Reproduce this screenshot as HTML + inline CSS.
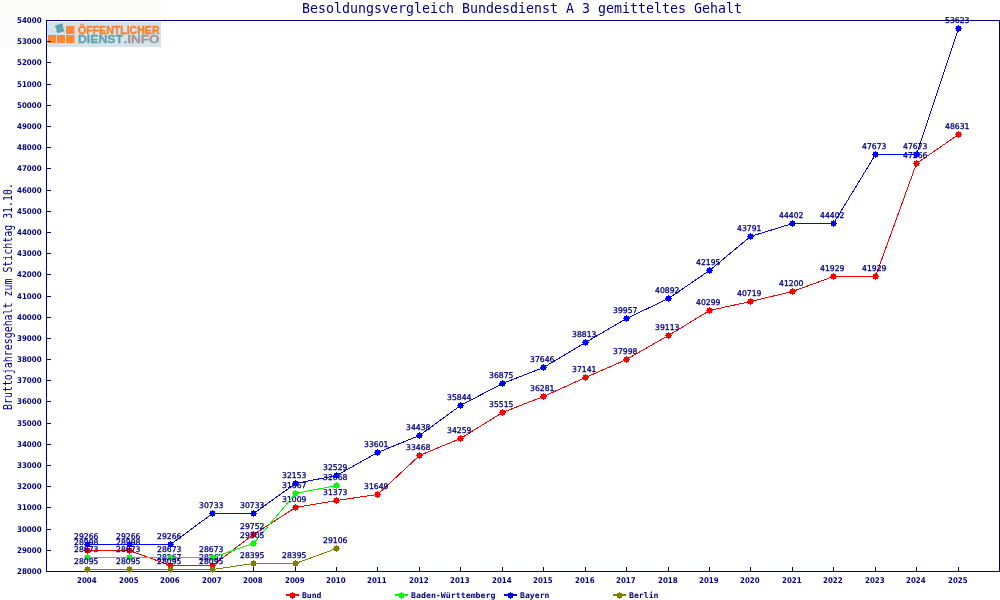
<!DOCTYPE html><html lang="de"><head><meta charset="utf-8"><title>Besoldungsvergleich Bundesdienst A 3</title>
<style>html,body{margin:0;padding:0;background:#fff;overflow:hidden}svg{display:block}text{font-family:"DejaVu Sans Mono","Liberation Mono",monospace;fill:#000080}.v{font-family:"DejaVu Sans","Liberation Sans",sans-serif;font-size:7.9px;stroke:#000080;stroke-width:.3px}.b{font-family:"DejaVu Sans","Liberation Sans",sans-serif;font-size:7.9px;font-weight:bold}.t{font-size:13.6px}.yt{font-size:11.6px}.lg{font-size:7.9px;font-weight:bold}.lo{font-family:"Liberation Sans","DejaVu Sans",sans-serif;font-weight:bold;font-size:10.5px;stroke-width:.3px}</style></head><body>
<svg width="1000" height="600" viewBox="0 0 1000 600">
<rect width="1000" height="600" fill="#ffffff"/>
<rect x="0" y="0" width="161" height="47" fill="#fcfdfb"/>
<g id="logo">
<rect x="47" y="22" width="114" height="25" fill="#d6e3ea"/>
<g fill="#ff8833"><rect x="48" y="35" width="8" height="8"/><rect x="57" y="35" width="8" height="8"/><rect x="66" y="35" width="8.5" height="8"/><rect x="66" y="26" width="8.5" height="8"/></g>
<path fill="#5fa5ae" d="M55.2 25.4L58 24.6 60 23.9 62.6 23.5 63 26 63.3 28.5 64.4 30.3 63.8 31.6 61 32 59.5 32.9 57 32.6 56.3 31 56.5 29 55.4 27.5z"/>
<text class="lo" x="78" y="34.2" textLength="81.5" lengthAdjust="spacingAndGlyphs" style="fill:#ff7d26;stroke:#ff7d26">ÖFFENTLICHER</text>
<text class="lo" x="78" y="42.5" textLength="45" lengthAdjust="spacingAndGlyphs" style="fill:#5fa5ae;stroke:#5fa5ae">DIENST</text>
<text class="lo" x="123.6" y="42.5" textLength="35.8" lengthAdjust="spacingAndGlyphs" style="fill:#9a9a9a;stroke:#9a9a9a">.INFO</text>
</g>
<text class="t" x="302" y="13.4" textLength="440" lengthAdjust="spacingAndGlyphs">Besoldungsvergleich Bundesdienst A 3 gemitteltes Gehalt</text>
<text class="yt" transform="translate(12,410) rotate(-90)" textLength="227" lengthAdjust="spacingAndGlyphs">Bruttojahresgehalt zum Stichtag 31.10.</text>
<g fill="#000080">
<rect x="46" y="20" width="954" height="1"/><rect x="46" y="571" width="954" height="1"/><rect x="46" y="20" width="1" height="552"/><rect x="999" y="20" width="1" height="552"/>
<rect x="47" y="571" width="4" height="1"/>
<rect x="47" y="550" width="4" height="1"/>
<rect x="47" y="529" width="4" height="1"/>
<rect x="47" y="507" width="4" height="1"/>
<rect x="47" y="486" width="4" height="1"/>
<rect x="47" y="465" width="4" height="1"/>
<rect x="47" y="444" width="4" height="1"/>
<rect x="47" y="423" width="4" height="1"/>
<rect x="47" y="401" width="4" height="1"/>
<rect x="47" y="380" width="4" height="1"/>
<rect x="47" y="359" width="4" height="1"/>
<rect x="47" y="338" width="4" height="1"/>
<rect x="47" y="317" width="4" height="1"/>
<rect x="47" y="296" width="4" height="1"/>
<rect x="47" y="274" width="4" height="1"/>
<rect x="47" y="253" width="4" height="1"/>
<rect x="47" y="232" width="4" height="1"/>
<rect x="47" y="211" width="4" height="1"/>
<rect x="47" y="190" width="4" height="1"/>
<rect x="47" y="168" width="4" height="1"/>
<rect x="47" y="147" width="4" height="1"/>
<rect x="47" y="126" width="4" height="1"/>
<rect x="47" y="105" width="4" height="1"/>
<rect x="47" y="84" width="4" height="1"/>
<rect x="47" y="62" width="4" height="1"/>
<rect x="47" y="41" width="4" height="1"/>
<rect x="47" y="20" width="4" height="1"/>
<rect x="87" y="567" width="1" height="4"/>
<rect x="129" y="567" width="1" height="4"/>
<rect x="170" y="567" width="1" height="4"/>
<rect x="212" y="567" width="1" height="4"/>
<rect x="253" y="567" width="1" height="4"/>
<rect x="295" y="567" width="1" height="4"/>
<rect x="336" y="567" width="1" height="4"/>
<rect x="377" y="567" width="1" height="4"/>
<rect x="419" y="567" width="1" height="4"/>
<rect x="460" y="567" width="1" height="4"/>
<rect x="502" y="567" width="1" height="4"/>
<rect x="543" y="567" width="1" height="4"/>
<rect x="585" y="567" width="1" height="4"/>
<rect x="626" y="567" width="1" height="4"/>
<rect x="668" y="567" width="1" height="4"/>
<rect x="709" y="567" width="1" height="4"/>
<rect x="750" y="567" width="1" height="4"/>
<rect x="792" y="567" width="1" height="4"/>
<rect x="833" y="567" width="1" height="4"/>
<rect x="875" y="567" width="1" height="4"/>
<rect x="916" y="567" width="1" height="4"/>
<rect x="958" y="567" width="1" height="4"/>
</g>
<polyline points="87.5,550.5 129.5,550.5 170.5,565.5 212.5,565.5 253.5,534.5 295.5,507.5 336.5,500.5 377.5,494.5 419.5,455.5 460.5,438.5 502.5,412.5 543.5,396.5 585.5,377.5 626.5,359.5 668.5,335.5 709.5,310.5 750.5,301.5 792.5,291.5 833.5,276.5 875.5,276.5 916.5,163.5 958.5,134.5" fill="none" stroke="#ff0000" stroke-width="1" shape-rendering="crispEdges"/>
<path fill="#ff0000" d="M85 548h5v5h-5zM84 550h7v1h-7zM87 547h1v7h-1z"/>
<path fill="#ff0000" d="M127 548h5v5h-5zM126 550h7v1h-7zM129 547h1v7h-1z"/>
<path fill="#ff0000" d="M168 563h5v5h-5zM167 565h7v1h-7zM170 562h1v7h-1z"/>
<path fill="#ff0000" d="M210 563h5v5h-5zM209 565h7v1h-7zM212 562h1v7h-1z"/>
<path fill="#ff0000" d="M251 532h5v5h-5zM250 534h7v1h-7zM253 531h1v7h-1z"/>
<path fill="#ff0000" d="M293 505h5v5h-5zM292 507h7v1h-7zM295 504h1v7h-1z"/>
<path fill="#ff0000" d="M334 498h5v5h-5zM333 500h7v1h-7zM336 497h1v7h-1z"/>
<path fill="#ff0000" d="M375 492h5v5h-5zM374 494h7v1h-7zM377 491h1v7h-1z"/>
<path fill="#ff0000" d="M417 453h5v5h-5zM416 455h7v1h-7zM419 452h1v7h-1z"/>
<path fill="#ff0000" d="M458 436h5v5h-5zM457 438h7v1h-7zM460 435h1v7h-1z"/>
<path fill="#ff0000" d="M500 410h5v5h-5zM499 412h7v1h-7zM502 409h1v7h-1z"/>
<path fill="#ff0000" d="M541 394h5v5h-5zM540 396h7v1h-7zM543 393h1v7h-1z"/>
<path fill="#ff0000" d="M583 375h5v5h-5zM582 377h7v1h-7zM585 374h1v7h-1z"/>
<path fill="#ff0000" d="M624 357h5v5h-5zM623 359h7v1h-7zM626 356h1v7h-1z"/>
<path fill="#ff0000" d="M666 333h5v5h-5zM665 335h7v1h-7zM668 332h1v7h-1z"/>
<path fill="#ff0000" d="M707 308h5v5h-5zM706 310h7v1h-7zM709 307h1v7h-1z"/>
<path fill="#ff0000" d="M748 299h5v5h-5zM747 301h7v1h-7zM750 298h1v7h-1z"/>
<path fill="#ff0000" d="M790 289h5v5h-5zM789 291h7v1h-7zM792 288h1v7h-1z"/>
<path fill="#ff0000" d="M831 274h5v5h-5zM830 276h7v1h-7zM833 273h1v7h-1z"/>
<path fill="#ff0000" d="M873 274h5v5h-5zM872 276h7v1h-7zM875 273h1v7h-1z"/>
<path fill="#ff0000" d="M914 161h5v5h-5zM913 163h7v1h-7zM916 160h1v7h-1z"/>
<path fill="#ff0000" d="M956 132h5v5h-5zM955 134h7v1h-7zM958 131h1v7h-1z"/>
<text class="v" x="74" y="545" textLength="24.4" lengthAdjust="spacingAndGlyphs">28998</text>
<text class="v" x="116" y="545" textLength="24.4" lengthAdjust="spacingAndGlyphs">28998</text>
<text class="v" x="157" y="560" textLength="24.4" lengthAdjust="spacingAndGlyphs">28267</text>
<text class="v" x="199" y="560" textLength="24.4" lengthAdjust="spacingAndGlyphs">28267</text>
<text class="v" x="240" y="529" textLength="24.4" lengthAdjust="spacingAndGlyphs">29752</text>
<text class="v" x="282" y="502" textLength="24.4" lengthAdjust="spacingAndGlyphs">31009</text>
<text class="v" x="323" y="495" textLength="24.4" lengthAdjust="spacingAndGlyphs">31373</text>
<text class="v" x="364" y="489" textLength="24.4" lengthAdjust="spacingAndGlyphs">31649</text>
<text class="v" x="406" y="450" textLength="24.4" lengthAdjust="spacingAndGlyphs">33468</text>
<text class="v" x="447" y="433" textLength="24.4" lengthAdjust="spacingAndGlyphs">34259</text>
<text class="v" x="489" y="407" textLength="24.4" lengthAdjust="spacingAndGlyphs">35515</text>
<text class="v" x="530" y="391" textLength="24.4" lengthAdjust="spacingAndGlyphs">36281</text>
<text class="v" x="572" y="372" textLength="24.4" lengthAdjust="spacingAndGlyphs">37141</text>
<text class="v" x="613" y="354" textLength="24.4" lengthAdjust="spacingAndGlyphs">37998</text>
<text class="v" x="655" y="330" textLength="24.4" lengthAdjust="spacingAndGlyphs">39113</text>
<text class="v" x="696" y="305" textLength="24.4" lengthAdjust="spacingAndGlyphs">40299</text>
<text class="v" x="737" y="296" textLength="24.4" lengthAdjust="spacingAndGlyphs">40719</text>
<text class="v" x="779" y="286" textLength="24.4" lengthAdjust="spacingAndGlyphs">41200</text>
<text class="v" x="820" y="271" textLength="24.4" lengthAdjust="spacingAndGlyphs">41929</text>
<text class="v" x="862" y="271" textLength="24.4" lengthAdjust="spacingAndGlyphs">41929</text>
<text class="v" x="903" y="158" textLength="24.4" lengthAdjust="spacingAndGlyphs">47266</text>
<text class="v" x="945" y="129" textLength="24.4" lengthAdjust="spacingAndGlyphs">48631</text>
<polyline points="87.5,557.5 129.5,557.5 170.5,557.5 212.5,557.5 253.5,543.5 295.5,493.5 336.5,485.5" fill="none" stroke="#00ff00" stroke-width="1" shape-rendering="crispEdges"/>
<path fill="#00ff00" d="M85 555h5v5h-5zM84 557h7v1h-7zM87 554h1v7h-1z"/>
<path fill="#00ff00" d="M127 555h5v5h-5zM126 557h7v1h-7zM129 554h1v7h-1z"/>
<path fill="#00ff00" d="M168 555h5v5h-5zM167 557h7v1h-7zM170 554h1v7h-1z"/>
<path fill="#00ff00" d="M210 555h5v5h-5zM209 557h7v1h-7zM212 554h1v7h-1z"/>
<path fill="#00ff00" d="M251 541h5v5h-5zM250 543h7v1h-7zM253 540h1v7h-1z"/>
<path fill="#00ff00" d="M293 491h5v5h-5zM292 493h7v1h-7zM295 490h1v7h-1z"/>
<path fill="#00ff00" d="M334 483h5v5h-5zM333 485h7v1h-7zM336 482h1v7h-1z"/>
<text class="v" x="74" y="552" textLength="24.4" lengthAdjust="spacingAndGlyphs">28673</text>
<text class="v" x="116" y="552" textLength="24.4" lengthAdjust="spacingAndGlyphs">28673</text>
<text class="v" x="157" y="552" textLength="24.4" lengthAdjust="spacingAndGlyphs">28673</text>
<text class="v" x="199" y="552" textLength="24.4" lengthAdjust="spacingAndGlyphs">28673</text>
<text class="v" x="240" y="538" textLength="24.4" lengthAdjust="spacingAndGlyphs">29305</text>
<text class="v" x="282" y="488" textLength="24.4" lengthAdjust="spacingAndGlyphs">31667</text>
<text class="v" x="323" y="480" textLength="24.4" lengthAdjust="spacingAndGlyphs">32068</text>
<polyline points="87.5,544.5 129.5,544.5 170.5,544.5 212.5,513.5 253.5,513.5 295.5,483.5 336.5,475.5 377.5,452.5 419.5,435.5 460.5,405.5 502.5,383.5 543.5,367.5 585.5,342.5 626.5,318.5 668.5,298.5 709.5,270.5 750.5,236.5 792.5,223.5 833.5,223.5 875.5,154.5 916.5,154.5 958.5,28.5" fill="none" stroke="#0000ff" stroke-width="1" shape-rendering="crispEdges"/>
<path fill="#0000ff" d="M85 542h5v5h-5zM84 544h7v1h-7zM87 541h1v7h-1z"/>
<path fill="#0000ff" d="M127 542h5v5h-5zM126 544h7v1h-7zM129 541h1v7h-1z"/>
<path fill="#0000ff" d="M168 542h5v5h-5zM167 544h7v1h-7zM170 541h1v7h-1z"/>
<path fill="#0000ff" d="M210 511h5v5h-5zM209 513h7v1h-7zM212 510h1v7h-1z"/>
<path fill="#0000ff" d="M251 511h5v5h-5zM250 513h7v1h-7zM253 510h1v7h-1z"/>
<path fill="#0000ff" d="M293 481h5v5h-5zM292 483h7v1h-7zM295 480h1v7h-1z"/>
<path fill="#0000ff" d="M334 473h5v5h-5zM333 475h7v1h-7zM336 472h1v7h-1z"/>
<path fill="#0000ff" d="M375 450h5v5h-5zM374 452h7v1h-7zM377 449h1v7h-1z"/>
<path fill="#0000ff" d="M417 433h5v5h-5zM416 435h7v1h-7zM419 432h1v7h-1z"/>
<path fill="#0000ff" d="M458 403h5v5h-5zM457 405h7v1h-7zM460 402h1v7h-1z"/>
<path fill="#0000ff" d="M500 381h5v5h-5zM499 383h7v1h-7zM502 380h1v7h-1z"/>
<path fill="#0000ff" d="M541 365h5v5h-5zM540 367h7v1h-7zM543 364h1v7h-1z"/>
<path fill="#0000ff" d="M583 340h5v5h-5zM582 342h7v1h-7zM585 339h1v7h-1z"/>
<path fill="#0000ff" d="M624 316h5v5h-5zM623 318h7v1h-7zM626 315h1v7h-1z"/>
<path fill="#0000ff" d="M666 296h5v5h-5zM665 298h7v1h-7zM668 295h1v7h-1z"/>
<path fill="#0000ff" d="M707 268h5v5h-5zM706 270h7v1h-7zM709 267h1v7h-1z"/>
<path fill="#0000ff" d="M748 234h5v5h-5zM747 236h7v1h-7zM750 233h1v7h-1z"/>
<path fill="#0000ff" d="M790 221h5v5h-5zM789 223h7v1h-7zM792 220h1v7h-1z"/>
<path fill="#0000ff" d="M831 221h5v5h-5zM830 223h7v1h-7zM833 220h1v7h-1z"/>
<path fill="#0000ff" d="M873 152h5v5h-5zM872 154h7v1h-7zM875 151h1v7h-1z"/>
<path fill="#0000ff" d="M914 152h5v5h-5zM913 154h7v1h-7zM916 151h1v7h-1z"/>
<path fill="#0000ff" d="M956 26h5v5h-5zM955 28h7v1h-7zM958 25h1v7h-1z"/>
<text class="v" x="74" y="539" textLength="24.4" lengthAdjust="spacingAndGlyphs">29266</text>
<text class="v" x="116" y="539" textLength="24.4" lengthAdjust="spacingAndGlyphs">29266</text>
<text class="v" x="157" y="539" textLength="24.4" lengthAdjust="spacingAndGlyphs">29266</text>
<text class="v" x="199" y="508" textLength="24.4" lengthAdjust="spacingAndGlyphs">30733</text>
<text class="v" x="240" y="508" textLength="24.4" lengthAdjust="spacingAndGlyphs">30733</text>
<text class="v" x="282" y="478" textLength="24.4" lengthAdjust="spacingAndGlyphs">32153</text>
<text class="v" x="323" y="470" textLength="24.4" lengthAdjust="spacingAndGlyphs">32529</text>
<text class="v" x="364" y="447" textLength="24.4" lengthAdjust="spacingAndGlyphs">33601</text>
<text class="v" x="406" y="430" textLength="24.4" lengthAdjust="spacingAndGlyphs">34438</text>
<text class="v" x="447" y="400" textLength="24.4" lengthAdjust="spacingAndGlyphs">35844</text>
<text class="v" x="489" y="378" textLength="24.4" lengthAdjust="spacingAndGlyphs">36875</text>
<text class="v" x="530" y="362" textLength="24.4" lengthAdjust="spacingAndGlyphs">37646</text>
<text class="v" x="572" y="337" textLength="24.4" lengthAdjust="spacingAndGlyphs">38813</text>
<text class="v" x="613" y="313" textLength="24.4" lengthAdjust="spacingAndGlyphs">39957</text>
<text class="v" x="655" y="293" textLength="24.4" lengthAdjust="spacingAndGlyphs">40892</text>
<text class="v" x="696" y="265" textLength="24.4" lengthAdjust="spacingAndGlyphs">42195</text>
<text class="v" x="737" y="231" textLength="24.4" lengthAdjust="spacingAndGlyphs">43791</text>
<text class="v" x="779" y="218" textLength="24.4" lengthAdjust="spacingAndGlyphs">44402</text>
<text class="v" x="820" y="218" textLength="24.4" lengthAdjust="spacingAndGlyphs">44402</text>
<text class="v" x="862" y="149" textLength="24.4" lengthAdjust="spacingAndGlyphs">47673</text>
<text class="v" x="903" y="149" textLength="24.4" lengthAdjust="spacingAndGlyphs">47673</text>
<text class="v" x="945" y="23" textLength="24.4" lengthAdjust="spacingAndGlyphs">53623</text>
<polyline points="87.5,569.5 129.5,569.5 170.5,569.5 212.5,569.5 253.5,563.5 295.5,563.5 336.5,548.5" fill="none" stroke="#808000" stroke-width="1" shape-rendering="crispEdges"/>
<path fill="#808000" d="M85 567h5v5h-5zM84 569h7v1h-7zM87 566h1v7h-1z"/>
<path fill="#808000" d="M127 567h5v5h-5zM126 569h7v1h-7zM129 566h1v7h-1z"/>
<path fill="#808000" d="M168 567h5v5h-5zM167 569h7v1h-7zM170 566h1v7h-1z"/>
<path fill="#808000" d="M210 567h5v5h-5zM209 569h7v1h-7zM212 566h1v7h-1z"/>
<path fill="#808000" d="M251 561h5v5h-5zM250 563h7v1h-7zM253 560h1v7h-1z"/>
<path fill="#808000" d="M293 561h5v5h-5zM292 563h7v1h-7zM295 560h1v7h-1z"/>
<path fill="#808000" d="M334 546h5v5h-5zM333 548h7v1h-7zM336 545h1v7h-1z"/>
<text class="v" x="74" y="564" textLength="24.4" lengthAdjust="spacingAndGlyphs">28095</text>
<text class="v" x="116" y="564" textLength="24.4" lengthAdjust="spacingAndGlyphs">28095</text>
<text class="v" x="157" y="564" textLength="24.4" lengthAdjust="spacingAndGlyphs">28095</text>
<text class="v" x="199" y="564" textLength="24.4" lengthAdjust="spacingAndGlyphs">28095</text>
<text class="v" x="240" y="558" textLength="24.4" lengthAdjust="spacingAndGlyphs">28395</text>
<text class="v" x="282" y="558" textLength="24.4" lengthAdjust="spacingAndGlyphs">28395</text>
<text class="v" x="323" y="543" textLength="24.4" lengthAdjust="spacingAndGlyphs">29106</text>
<text class="b" x="17" y="574" textLength="24.6" lengthAdjust="spacingAndGlyphs">28000</text>
<text class="b" x="17" y="553" textLength="24.6" lengthAdjust="spacingAndGlyphs">29000</text>
<text class="b" x="17" y="532" textLength="24.6" lengthAdjust="spacingAndGlyphs">30000</text>
<text class="b" x="17" y="510" textLength="24.6" lengthAdjust="spacingAndGlyphs">31000</text>
<text class="b" x="17" y="489" textLength="24.6" lengthAdjust="spacingAndGlyphs">32000</text>
<text class="b" x="17" y="468" textLength="24.6" lengthAdjust="spacingAndGlyphs">33000</text>
<text class="b" x="17" y="447" textLength="24.6" lengthAdjust="spacingAndGlyphs">34000</text>
<text class="b" x="17" y="426" textLength="24.6" lengthAdjust="spacingAndGlyphs">35000</text>
<text class="b" x="17" y="404" textLength="24.6" lengthAdjust="spacingAndGlyphs">36000</text>
<text class="b" x="17" y="383" textLength="24.6" lengthAdjust="spacingAndGlyphs">37000</text>
<text class="b" x="17" y="362" textLength="24.6" lengthAdjust="spacingAndGlyphs">38000</text>
<text class="b" x="17" y="341" textLength="24.6" lengthAdjust="spacingAndGlyphs">39000</text>
<text class="b" x="17" y="320" textLength="24.6" lengthAdjust="spacingAndGlyphs">40000</text>
<text class="b" x="17" y="299" textLength="24.6" lengthAdjust="spacingAndGlyphs">41000</text>
<text class="b" x="17" y="277" textLength="24.6" lengthAdjust="spacingAndGlyphs">42000</text>
<text class="b" x="17" y="256" textLength="24.6" lengthAdjust="spacingAndGlyphs">43000</text>
<text class="b" x="17" y="235" textLength="24.6" lengthAdjust="spacingAndGlyphs">44000</text>
<text class="b" x="17" y="214" textLength="24.6" lengthAdjust="spacingAndGlyphs">45000</text>
<text class="b" x="17" y="193" textLength="24.6" lengthAdjust="spacingAndGlyphs">46000</text>
<text class="b" x="17" y="171" textLength="24.6" lengthAdjust="spacingAndGlyphs">47000</text>
<text class="b" x="17" y="150" textLength="24.6" lengthAdjust="spacingAndGlyphs">48000</text>
<text class="b" x="17" y="129" textLength="24.6" lengthAdjust="spacingAndGlyphs">49000</text>
<text class="b" x="17" y="108" textLength="24.6" lengthAdjust="spacingAndGlyphs">50000</text>
<text class="b" x="17" y="87" textLength="24.6" lengthAdjust="spacingAndGlyphs">51000</text>
<text class="b" x="17" y="65" textLength="24.6" lengthAdjust="spacingAndGlyphs">52000</text>
<text class="b" x="17" y="44" textLength="24.6" lengthAdjust="spacingAndGlyphs">53000</text>
<text class="b" x="17" y="23" textLength="24.6" lengthAdjust="spacingAndGlyphs">54000</text>
<text class="b" x="77" y="583" textLength="19.6" lengthAdjust="spacingAndGlyphs">2004</text>
<text class="b" x="119" y="583" textLength="19.6" lengthAdjust="spacingAndGlyphs">2005</text>
<text class="b" x="160" y="583" textLength="19.6" lengthAdjust="spacingAndGlyphs">2006</text>
<text class="b" x="202" y="583" textLength="19.6" lengthAdjust="spacingAndGlyphs">2007</text>
<text class="b" x="243" y="583" textLength="19.6" lengthAdjust="spacingAndGlyphs">2008</text>
<text class="b" x="285" y="583" textLength="19.6" lengthAdjust="spacingAndGlyphs">2009</text>
<text class="b" x="326" y="583" textLength="19.6" lengthAdjust="spacingAndGlyphs">2010</text>
<text class="b" x="367" y="583" textLength="19.6" lengthAdjust="spacingAndGlyphs">2011</text>
<text class="b" x="409" y="583" textLength="19.6" lengthAdjust="spacingAndGlyphs">2012</text>
<text class="b" x="450" y="583" textLength="19.6" lengthAdjust="spacingAndGlyphs">2013</text>
<text class="b" x="492" y="583" textLength="19.6" lengthAdjust="spacingAndGlyphs">2014</text>
<text class="b" x="533" y="583" textLength="19.6" lengthAdjust="spacingAndGlyphs">2015</text>
<text class="b" x="575" y="583" textLength="19.6" lengthAdjust="spacingAndGlyphs">2016</text>
<text class="b" x="616" y="583" textLength="19.6" lengthAdjust="spacingAndGlyphs">2017</text>
<text class="b" x="658" y="583" textLength="19.6" lengthAdjust="spacingAndGlyphs">2018</text>
<text class="b" x="699" y="583" textLength="19.6" lengthAdjust="spacingAndGlyphs">2019</text>
<text class="b" x="740" y="583" textLength="19.6" lengthAdjust="spacingAndGlyphs">2020</text>
<text class="b" x="782" y="583" textLength="19.6" lengthAdjust="spacingAndGlyphs">2021</text>
<text class="b" x="823" y="583" textLength="19.6" lengthAdjust="spacingAndGlyphs">2022</text>
<text class="b" x="865" y="583" textLength="19.6" lengthAdjust="spacingAndGlyphs">2023</text>
<text class="b" x="906" y="583" textLength="19.6" lengthAdjust="spacingAndGlyphs">2024</text>
<text class="b" x="948" y="583" textLength="19.6" lengthAdjust="spacingAndGlyphs">2025</text>
<rect x="286" y="594" width="13" height="2" fill="#ff0000"/>
<path fill="#ff0000" d="M290 593h5v5h-5zM289 595h7v1h-7zM292 592h1v7h-1z"/>
<text class="lg" x="302" y="598" textLength="19.5" lengthAdjust="spacingAndGlyphs">Bund</text>
<rect x="395" y="594" width="13" height="2" fill="#00ff00"/>
<path fill="#00ff00" d="M399 593h5v5h-5zM398 595h7v1h-7zM401 592h1v7h-1z"/>
<text class="lg" x="411" y="598" textLength="84.5" lengthAdjust="spacingAndGlyphs">Baden-Württemberg</text>
<rect x="504" y="594" width="13" height="2" fill="#0000ff"/>
<path fill="#0000ff" d="M508 593h5v5h-5zM507 595h7v1h-7zM510 592h1v7h-1z"/>
<text class="lg" x="520" y="598" textLength="29.5" lengthAdjust="spacingAndGlyphs">Bayern</text>
<rect x="613" y="594" width="13" height="2" fill="#808000"/>
<path fill="#808000" d="M617 593h5v5h-5zM616 595h7v1h-7zM619 592h1v7h-1z"/>
<text class="lg" x="629" y="598" textLength="29.5" lengthAdjust="spacingAndGlyphs">Berlin</text>
</svg></body></html>
